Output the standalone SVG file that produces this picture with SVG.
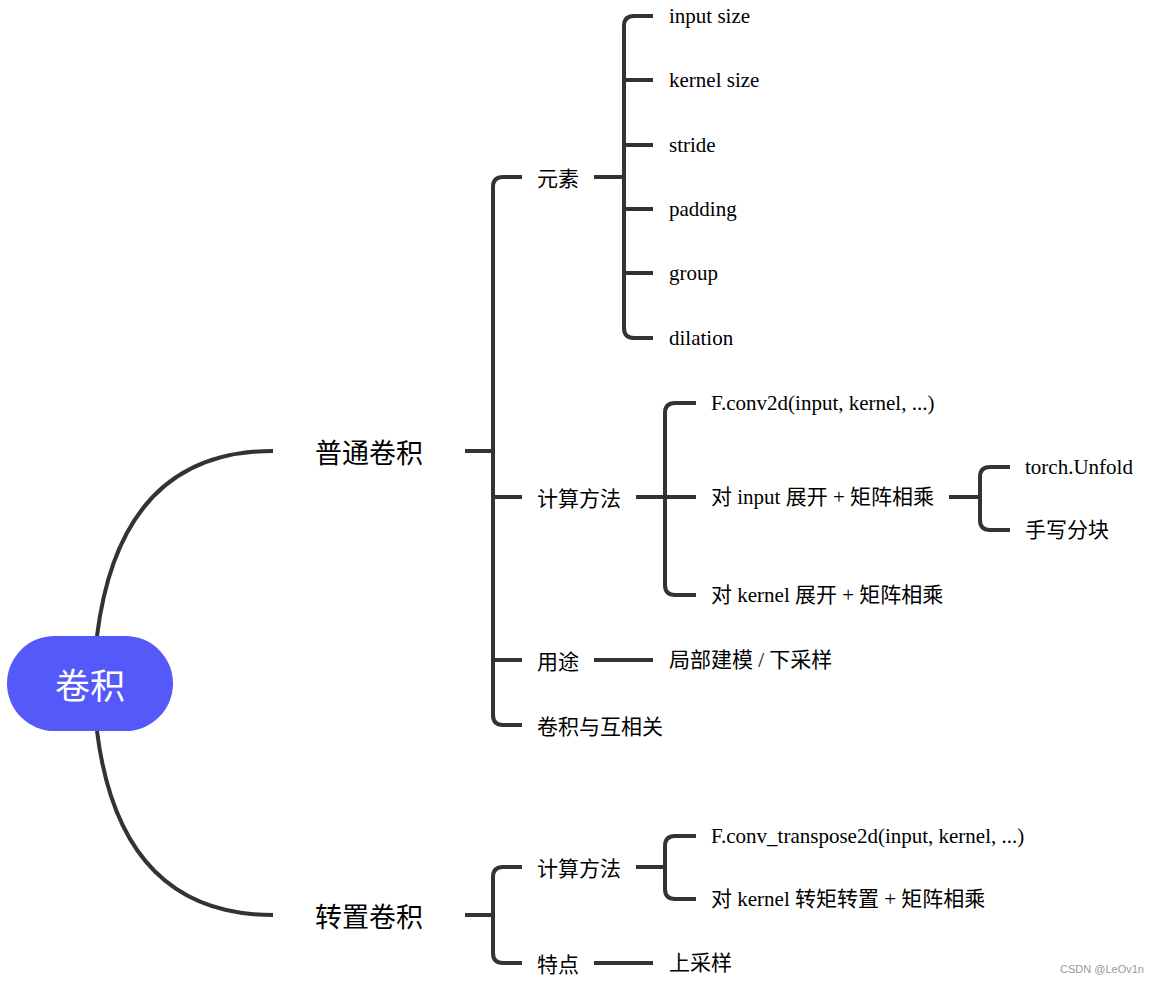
<svg xmlns="http://www.w3.org/2000/svg" width="1157" height="983" viewBox="0 0 1157 983">
<style>
.c{fill:none;stroke:#333333;stroke-width:4}
.t{font-family:"Liberation Serif","Noto Sans CJK SC",serif;font-size:21px;fill:#000;dominant-baseline:central}
.l1{font-family:"Noto Sans CJK SC","Liberation Sans",sans-serif;font-size:27px;fill:#000;dominant-baseline:central}
.l2{font-family:"Noto Sans CJK SC","Liberation Sans",sans-serif;font-size:21px;fill:#000;dominant-baseline:central}
</style>
<rect width="1157" height="983" fill="#fff"/>
<g id="connectors">
<path class="c" d="M97,636 Q120,451 273,451"/>
<path class="c" d="M97,731 Q120,915 273,915"/>
<path class="c" d="M465,451 H493"/>
<path class="c" d="M522,177 H503 Q493,177 493,187 V715 Q493,725 503,725 H522 M493,497 H522 M493,660 H522"/>
<path class="c" d="M594,177 H624"/>
<path class="c" d="M653,16 H634 Q624,16 624,26 V328 Q624,338 634,338 H653 M624,80 H653 M624,145 H653 M624,209 H653 M624,273 H653"/>
<path class="c" d="M636,497 H665"/>
<path class="c" d="M696,403 H675 Q665,403 665,413 V585 Q665,595 675,595 H696 M665,497 H696"/>
<path class="c" d="M949,497 H980"/>
<path class="c" d="M1010,467 H990 Q980,467 980,477 V520 Q980,530 990,530 H1010"/>
<path class="c" d="M594,660 H653"/>
<path class="c" d="M465,915 H493"/>
<path class="c" d="M522,867 H503 Q493,867 493,877 V953 Q493,963 503,963 H522"/>
<path class="c" d="M636,867 H665"/>
<path class="c" d="M696,836 H675 Q665,836 665,846 V889 Q665,899 675,899 H696"/>
<path class="c" d="M594,963 H653"/>
</g>
<g id="root">
<rect x="7" y="636" width="166" height="95" rx="47.5" fill="#5659F9"/>
<text x="90" y="683" text-anchor="middle" font-family="Noto Sans CJK SC, sans-serif" font-size="35" fill="#fff" dominant-baseline="central">卷积</text>
</g>
<g id="n-putong"><text class="l1" x="315" y="451">普通卷积</text></g>
<g id="n-zhuanzhi"><text class="l1" x="315" y="915">转置卷积</text></g>
<g id="n-yuansu"><text class="l2" x="537" y="177">元素</text></g>
<g id="n-jisuan1"><text class="l2" x="537" y="497">计算方法</text></g>
<g id="n-yongtu"><text class="l2" x="537" y="660">用途</text></g>
<g id="n-xiangguan"><text class="l2" x="537" y="725">卷积与互相关</text></g>
<g id="n-input"><text class="t" x="669" y="16">input size</text></g>
<g id="n-kernel"><text class="t" x="669" y="80">kernel size</text></g>
<g id="n-stride"><text class="t" x="669" y="145">stride</text></g>
<g id="n-padding"><text class="t" x="669" y="209">padding</text></g>
<g id="n-group"><text class="t" x="669" y="273">group</text></g>
<g id="n-dilation"><text class="t" x="669" y="338">dilation</text></g>
<g id="n-fconv"><text class="t" x="711" y="403">F.conv2d(input, kernel, ...)</text></g>
<g id="n-dinput"><text class="t" x="711" y="497">对 input 展开 + 矩阵相乘</text></g>
<g id="n-dkernel"><text class="t" x="711" y="595">对 kernel 展开 + 矩阵相乘</text></g>
<g id="n-unfold"><text class="t" x="1025" y="467">torch.Unfold</text></g>
<g id="n-shouxie"><text class="t" x="1025" y="530">手写分块</text></g>
<g id="n-jubu"><text class="t" x="669" y="660">局部建模 / 下采样</text></g>
<g id="n-jisuan2"><text class="l2" x="537" y="867">计算方法</text></g>
<g id="n-tedian"><text class="l2" x="537" y="963">特点</text></g>
<g id="n-ftrans"><text class="t" x="711" y="836">F.conv_transpose2d(input, kernel, ...)</text></g>
<g id="n-dkernel2"><text class="t" x="711" y="899">对 kernel 转矩转置 + 矩阵相乘</text></g>
<g id="n-shang"><text class="t" x="669" y="963">上采样</text></g>
<text x="1060" y="969" font-family="Liberation Sans, sans-serif" font-size="11" fill="#999" dominant-baseline="central">CSDN @LeOv1n</text>
</svg>
